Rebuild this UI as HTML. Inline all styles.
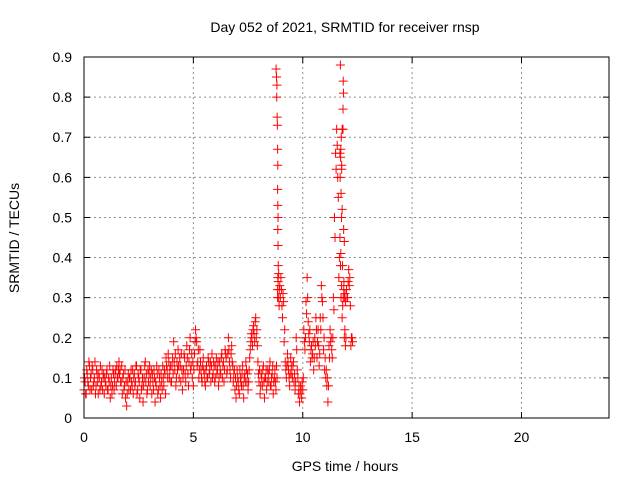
<!DOCTYPE html>
<html><head><meta charset="utf-8">
<style>
html,body{margin:0;padding:0;background:#fff;}
svg{display:block;font-family:"Liberation Sans",sans-serif;}
</style></head>
<body>
<svg id="chart" width="640" height="480" viewBox="0 0 640 480" xmlns="http://www.w3.org/2000/svg">
<text x="345" y="32" font-size="14" text-anchor="middle" fill="#000">Day 052 of 2021, SRMTID for receiver rnsp</text>
<text transform="translate(19,238) rotate(-90)" font-size="14" text-anchor="middle" fill="#000">SRMTID / TECUs</text>
<text x="345" y="471" font-size="14" text-anchor="middle" fill="#000">GPS time / hours</text>
<g id="grid"></g>
<g id="ticks"></g>
<g id="points"></g>
<rect x="84" y="57" width="525" height="361" fill="none" stroke="#000" stroke-width="1"/>
</svg>
<script>
const xTicks = [0,5,10,15,20];
const yTicks = [0,0.1,0.2,0.3,0.4,0.5,0.6,0.7,0.8,0.9];
const yTickLabels = ["0","0.1","0.2","0.3","0.4","0.5","0.6","0.7","0.8","0.9"];
const sampleStepHours = 0.05;
const baseValues = [
0.07,0.09,0.06,0.11,0.08,0.13,0.1,0.07,0.12,0.09,0.14,0.08,0.11,0.06,0.1,0.13,0.09,0.07,0.11,0.1,
0.08,0.12,0.07,0.09,0.05,0.1,0.08,0.11,0.09,0.12,0.13,0.1,0.14,0.12,0.09,0.06,0.11,0.08,0.05,0.03,
0.09,0.07,0.1,0.12,0.08,0.06,0.11,0.09,0.13,0.07,0.1,0.05,0.12,0.08,0.04,0.1,0.14,0.11,0.07,0.09,
0.13,0.1,0.06,0.09,0.12,0.04,0.08,0.11,0.07,0.1,0.05,0.09,0.13,0.08,0.11,0.15,0.12,0.16,0.1,0.13,
0.09,0.15,0.19,0.12,0.08,0.14,0.17,0.1,0.13,0.16,0.07,0.12,0.15,0.09,0.18,0.11,0.14,0.2,0.13,0.1,
0.08,0.16,0.22,0.19,0.14,0.1,0.17,0.12,0.09,0.15,0.11,0.08,0.13,0.1,0.14,0.12,0.09,0.16,0.11,0.13,
0.1,0.15,0.12,0.08,0.14,0.11,0.16,0.13,0.09,0.17,0.15,0.12,0.2,0.14,0.1,0.18,0.13,0.11,0.07,0.05,
0.12,0.09,0.06,0.1,0.08,0.13,0.05,0.11,0.14,0.09,0.07,0.12,0.17,0.21,0.18,0.23,0.19,0.25,0.22,0.14,
0.09,0.06,0.11,0.08,0.13,0.05,0.1,0.07,0.12,0.09,0.14,0.08,0.11,0.06,0.1,0.09,0.13,0.3,0.36,0.33,
0.35,0.28,0.31,0.19,0.14,0.1,0.16,0.12,0.08,0.15,0.11,0.13,0.09,0.07,0.2,0.12,0.06,0.04,0.08,0.05,
0.07,0.22,0.17,0.29,0.35,0.24,0.19,0.14,0.18,0.16,0.12,0.2,0.25,0.15,0.22,0.13,0.25,0.33,0.29,0.17,
0.12,0.1,0.08,0.04,0.18,0.22,0.2,0.15,0.3,0.5,0.66,0.72,0.6,0.35,0.45,0.3,0.25,0.3,0.2,0.18,
0.32,0.3,0.37,0.35,0.18,0.2
];
const extraValues = [
0.1,0.06,0.12,0.09,0.14,0.07,0.11,0.13,0.08,0.1,0.06,0.12,0.09,0.11,0.07,0.08,0.12,0.1,0.06,0.09,
0.11,0.07,0.1,0.13,0.08,0.06,0.12,0.07,0.11,0.08,0.1,0.12,0.11,0.09,0.13,0.1,0.07,0.12,0.09,0.06,
0.11,0.1,0.07,0.09,0.12,0.1,0.08,0.13,0.06,0.11,0.09,0.12,0.07,0.1,0.08,0.13,0.09,0.06,0.12,0.11,
0.08,0.12,0.11,0.07,0.1,0.09,0.13,0.06,0.12,0.08,0.11,0.07,0.1,0.12,0.06,0.13,0.1,0.14,0.12,0.09,
0.13,0.11,0.14,0.16,0.1,0.12,0.13,0.15,0.09,0.12,0.1,0.16,0.11,0.13,0.15,0.08,0.17,0.12,0.16,0.14,
0.12,0.19,0.2,0.13,0.17,0.12,0.14,0.1,0.13,0.12,0.09,0.12,0.1,0.15,0.11,0.14,0.13,0.1,0.14,0.09,
0.13,0.11,0.14,0.1,0.12,0.15,0.1,0.14,0.12,0.16,0.11,0.16,0.17,0.12,0.16,0.14,0.09,0.12,0.1,0.08,
0.1,0.07,0.12,0.09,0.11,0.08,0.1,0.09,0.12,0.11,0.09,0.15,0.19,0.2,0.22,0.21,0.24,0.2,0.18,0.11,
0.12,0.08,0.1,0.12,0.09,0.1,0.12,0.09,0.11,0.12,0.08,0.1,0.13,0.09,0.12,0.07,0.1,0.34,0.32,0.3,
0.32,0.25,0.29,0.22,0.12,0.13,0.14,0.1,0.11,0.13,0.1,0.14,0.11,0.09,0.17,0.1,0.08,0.06,0.07,0.09,
0.1,0.19,0.2,0.26,0.3,0.21,0.22,0.17,0.15,0.19,0.15,0.18,0.22,0.19,0.18,0.16,0.22,0.3,0.25,0.2,
0.15,0.12,0.1,0.08,0.15,0.19,0.17,0.2,0.27,0.45,0.62,0.68,0.55,0.4,0.38,0.33,0.28,0.32,0.22,0.2,
0.3,0.34,0.33,0.28,0.2,0.19
];
const spikeTimes = [8.78,8.8,8.82,8.81,8.83,8.84,8.85,8.86,8.85,8.86,8.87,8.86,8.87,8.88,8.86,8.85,8.9,8.92,
11.72,11.85,11.86,11.84,11.8,11.76,11.74,11.73,11.78,11.71,11.75,11.8,11.77,11.87,11.9,11.74,11.82,11.88,11.93,11.95,11.7,11.78,11.84,11.9];
const spikeValues = [0.87,0.85,0.83,0.8,0.75,0.73,0.67,0.63,0.57,0.53,0.5,0.47,0.43,0.38,0.35,0.32,0.3,0.28,
0.88,0.84,0.81,0.77,0.72,0.7,0.67,0.65,0.63,0.6,0.56,0.52,0.5,0.47,0.44,0.41,0.38,0.34,0.31,0.29,0.66,0.62,0.72,0.3];

const X0=84, X1=609, Y0=418, Y1=57;
function xs(t){return X0+(t/24)*(X1-X0);}
function ys(v){return Y0-(v/0.9)*(Y0-Y1);}
const NS="http://www.w3.org/2000/svg";
const grid=document.getElementById('grid'), ticks=document.getElementById('ticks'), pts=document.getElementById('points');
function mk(tag,attrs,parent){const e=document.createElementNS(NS,tag);for(const k in attrs)e.setAttribute(k,attrs[k]);parent.appendChild(e);return e;}
xTicks.forEach(t=>{
  const x=xs(t);
  if(t>0){const g=mk('line',{x1:x,x2:x,y1:Y1,y2:Y0,stroke:'#909090','stroke-dasharray':'2,3'},grid);
  
  }
  const tm=mk('path',{d:`M${x},${Y0}V${Y0-6}M${x},${Y1}V${Y1+6}`,stroke:'#000'},ticks);
  
  
  const l=mk('text',{x:x,y:442,'font-size':14,'text-anchor':'middle'},ticks);
  
  
  l.textContent=t;
});
yTicks.forEach((v,i)=>{
  const y=ys(v);
  if(i>0&&i<yTicks.length-1){const g=mk('line',{x1:X0,x2:X1,y1:y,y2:y,stroke:'#909090','stroke-dasharray':'2,3'},grid);
  
  }
  const tm=mk('path',{d:`M${X0},${y}H${X0+6}M${X1},${y}H${X1-6}`,stroke:'#000'},ticks);
  
  
  const l=mk('text',{x:X0-12,y:y+5,'font-size':14,'text-anchor':'end'},ticks);
  
  
  l.textContent=yTickLabels[i];
});
function plus(t,v){
  const x=xs(t), y=ys(v);
  const p=mk('path',{d:`M${x-4.5},${y}H${x+4.5}M${x},${y-4.5}V${y+4.5}`,stroke:'#ff0000','stroke-width':1,fill:'none'},pts);
  
  
}
baseValues.forEach((v,i)=>plus(i*sampleStepHours,v));
extraValues.forEach((v,i)=>plus(i*sampleStepHours+0.025,v));
spikeTimes.forEach((t,i)=>plus(t,spikeValues[i]));
</script>
</body></html>
